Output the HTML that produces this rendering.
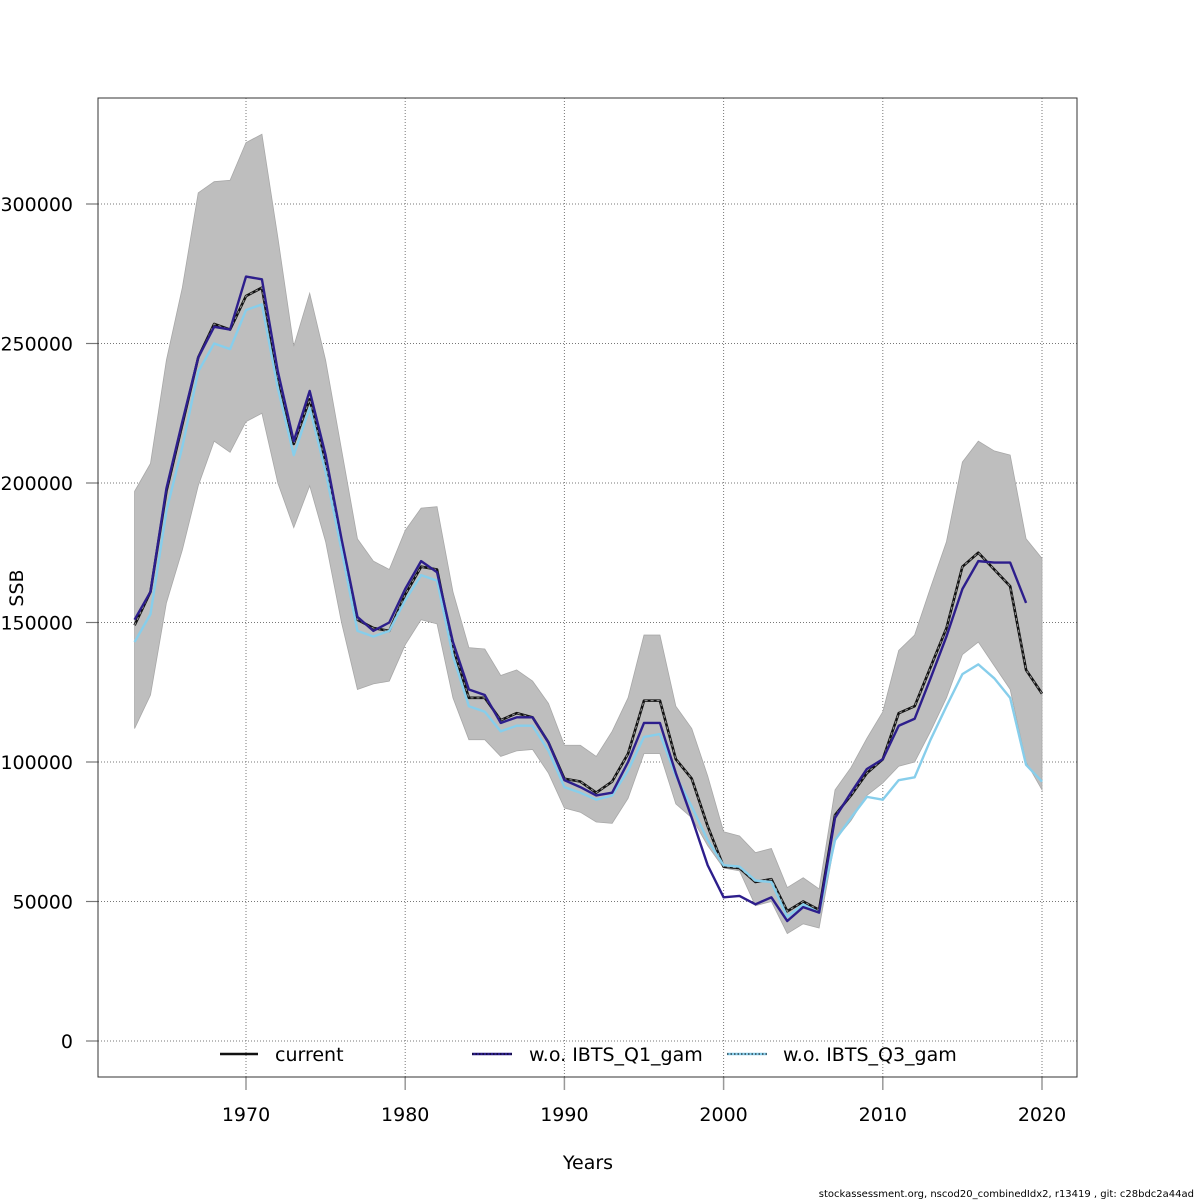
<!DOCTYPE html>
<html><head><meta charset="utf-8"><style>
html,body{margin:0;padding:0;background:#fff;}
svg{display:block;font-family:"DejaVu Sans","Liberation Sans",sans-serif;}
</style></head><body>
<svg id="chart" width="1200" height="1200" viewBox="0 0 1200 1200" xmlns="http://www.w3.org/2000/svg">
<g id="grid"></g>
<g id="band"></g>
<g id="lines"></g>
<g id="axes"></g>
<rect x="98" y="98" width="979" height="979" fill="none" stroke="#333" stroke-width="1"/>
<text x="588" y="1169" font-size="19" text-anchor="middle">Years</text>
<text transform="translate(23,588) rotate(-90)" font-size="19" text-anchor="middle">SSB</text>
<g>
<g>
<line x1="220" y1="1054" x2="258" y2="1054" stroke="#111" stroke-width="2.5"/>
<text x="275" y="1061" font-size="19">current</text></g>
<g>
<line x1="472" y1="1054" x2="512" y2="1054" stroke="#2d1e8c" stroke-width="2.5"/>
<line x1="472" y1="1054" x2="512" y2="1054" stroke="#000" stroke-width="1" stroke-dasharray="1.5,2"/>
<text x="529" y="1061" font-size="19">w.o. IBTS_Q1_gam</text></g>
<g>
<line x1="727" y1="1054" x2="767" y2="1054" stroke="#87ceeb" stroke-width="2.5"/>
<line x1="727" y1="1054" x2="767" y2="1054" stroke="#000" stroke-width="1" stroke-dasharray="1.5,2"/>
<text x="783" y="1061" font-size="19">w.o. IBTS_Q3_gam</text></g>
</g>
<text x="1194" y="1197" font-size="10" text-anchor="end">stockassessment.org, nscod20_combinedIdx2, r13419 , git: c28bdc2a44ad</text>
</svg>
<script>
const years=[];for(let y=1963;y<=2020;y++)years.push(y);
const current=[149,161,197,221,245,257,255,267,270,238,214,230,207,178,151,148,147,160,170,169,141,123,123,115,117.5,116,107,94,93,89,93,103,122,122,101,94,77,62.5,62,57,58,46.5,50,47,81,88,96,101,117.5,120,134,148,170,175,169,163,133,124.5];
const q1=[151,161,198,222,245,256,255,274,273,240,215,233,210,180,152,147,150,162,172,168,143,126,124,114,116,116,107,93.5,91,88,89,100,114,114,96,80,63,51.5,52,49,51.5,43,48,46,80,89,97.5,101,113,115.5,130,145,162,172,171.5,171.5,157,null];
const q3=[143,153,190,213,240,250,248,262,264,234,210,227,204,176,147,145,147,158,167,165,138,120,118,111,113,113,104,91,89,86.5,88,97,109,110,95,84,72,63,62.5,57.5,57,44.5,49,46,72,80,87.5,86.5,93.5,94.5,108,120,131.5,135,130,123,99,93];
const upper=[197,207,244,270,304,308,308.5,322,325,288,249,268,244,212,180,172,169,183,191,191.5,161,141,140.5,131,133,129,121,106,106,102,111,123,145.5,145.5,120,112,95,75,73.5,67.5,69,55,58.5,54.5,90,98,108.5,118,140,145.5,162.5,179,207.5,215,211.5,210,180,173];
const lower=[112,124,157,176,199,215,211,222,225,200,184,199,179,150,126,128,129,142,151,149.5,123,108,108,102,104,104.5,96,83.5,82,78.5,78,87,103,103,85,80,70,62,61,48.5,50,38.5,42,40.5,72,79,88,92.5,98.5,100,111,123,138.5,143,134.5,126,100,90];
const xTicks=[1970,1980,1990,2000,2010,2020];
const yTicks=[0,50000,100000,150000,200000,250000,300000];

const NS="http://www.w3.org/2000/svg";
const X=y=>246+(y-1970)*15.92;
const Y=v=>1041-v*2.79;
const YT=v=>1041-v/1000*2.79;
function mk(tag,attrs,parent){const e=document.createElementNS(NS,tag);for(const k in attrs)e.setAttribute(k,attrs[k]);parent.appendChild(e);return e;}
const grid=document.getElementById('grid'),axes=document.getElementById('axes');
xTicks.forEach(t=>{
  const g=mk('line',{x1:X(t),x2:X(t),y1:98,y2:1077,stroke:'#777','stroke-width':1,'stroke-dasharray':'1,2'},grid);
  
  
  const tk=mk('line',{x1:X(t),x2:X(t),y1:1077,y2:1090,stroke:'#999','stroke-width':1.5},axes);
  
  
  const tx=mk('text',{x:X(t),y:1121,'font-size':19,'text-anchor':'middle'},axes);
  tx.textContent=t;
  
  
});
yTicks.forEach(t=>{
  const g=mk('line',{x1:98,x2:1077,y1:YT(t),y2:YT(t),stroke:'#777','stroke-width':1,'stroke-dasharray':'1,2'},grid);
  
  
  const tk=mk('line',{x1:86,x2:98,y1:YT(t),y2:YT(t),stroke:'#777','stroke-width':1.2},axes);
  
  
  const tx=mk('text',{x:73,y:YT(t)+7,'font-size':19,'text-anchor':'end'},axes);
  tx.textContent=t;
  
  
});
let d='';years.forEach((y,i)=>{d+=(i?'L':'M')+X(y)+','+Y(upper[i]);});
for(let i=years.length-1;i>=0;i--)d+='L'+X(years[i])+','+Y(lower[i]);
const band=mk('path',{d:d+'Z',fill:'#bebebe',stroke:'#a8a8a8','stroke-width':0.8},document.getElementById('band'));


function pathOf(arr){let s='',m=true;arr.forEach((v,i)=>{if(v==null){m=true;return;}s+=(m?'M':'L')+X(years[i])+','+Y(v);m=false;});return s;}
const L=document.getElementById('lines');
const c1=mk('path',{d:pathOf(current),fill:'none',stroke:'#111','stroke-width':2.6,'stroke-linejoin':'round'},L);


const c2=mk('path',{d:pathOf(current),fill:'none',stroke:'#999','stroke-width':1,'stroke-dasharray':'3,3'},L);


const l3=mk('path',{d:pathOf(q3),fill:'none',stroke:'#87ceeb','stroke-width':2.4,'stroke-linejoin':'round'},L);


const l1=mk('path',{d:pathOf(q1),fill:'none',stroke:'#2d1e8c','stroke-width':2.4,'stroke-linejoin':'round'},L);


</script>
</body></html>
